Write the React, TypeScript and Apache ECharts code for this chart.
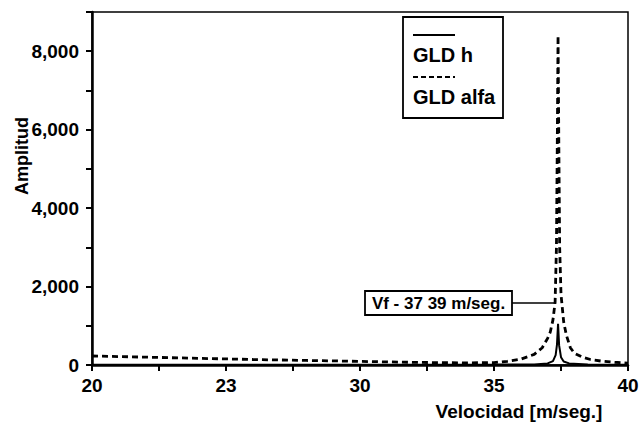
import React, { useEffect, useRef } from "react";
import * as echarts from "echarts";

// Velocity (m/seg.) and amplitude readings
const alfaVel = [20, 21, 22, 23, 24, 25, 26, 27, 28, 29, 30, 31, 32, 33, 34, 35, 35.5, 36, 36.5, 36.8, 37.0, 37.1, 37.2, 37.28, 37.33, 37.36, 37.39, 37.42, 37.45, 37.5, 37.6, 37.7, 37.85, 38.0, 38.3, 38.6, 39, 39.5, 40];
const alfaAmp = [230, 215, 200, 185, 170, 155, 140, 128, 116, 105, 92, 80, 68, 60, 55, 62, 95, 150, 270, 440, 680, 840, 1150, 1600, 3000, 5500, 8400, 5500, 3000, 1800, 1100, 760, 440, 300, 200, 140, 100, 70, 50];

const hVel = [20, 25, 30, 35, 36.5, 37.0, 37.2, 37.3, 37.35, 37.39, 37.43, 37.5, 37.6, 37.8, 38.5, 40];
const hAmp = [8, 8, 8, 10, 15, 40, 100, 250, 520, 1050, 500, 200, 90, 40, 15, 8];

const xTickValues = [20, 25, 30, 35, 40];
const xTickLabels = ["20", "23", "30", "35", "40"];

const seriesNames = ["GLD h", "GLD alfa"];
const annotationText = "Vf - 37 39 m/seg.";

const FONT = "'Liberation Sans', Arial, sans-serif";

export default function App() {
  const ref = useRef<HTMLDivElement>(null);
  useEffect(() => {
    if (!ref.current) return;
    const chart = echarts.init(ref.current, null, { renderer: "svg" });
    const alfaData = alfaVel.map((v, i) => [v, alfaAmp[i]]);
    const hData = hVel.map((v, i) => [v, hAmp[i]]);
    chart.setOption({
      animation: false,
      backgroundColor: "#fff",
      grid: {
        left: 92,
        right: 14,
        top: 12,
        bottom: 60,
        show: true,
        borderColor: "#000",
        borderWidth: 1.5,
      },
      xAxis: {
        type: "value",
        min: 20,
        max: 40,
        interval: 2.5,
        axisLine: { show: true, lineStyle: { color: "#000", width: 2.5 } },
        axisTick: { show: true, inside: false, length: 6, lineStyle: { color: "#000", width: 2 } },
        splitLine: { show: false },
        axisLabel: {
          color: "#000",
          fontFamily: FONT,
          fontWeight: "bold",
          fontSize: 19,
          margin: 11,
          formatter: (v: number) => {
            const idx = xTickValues.findIndex((t) => Math.abs(t - v) < 1e-6);
            return idx >= 0 ? xTickLabels[idx] : "";
          },
        },
      },
      yAxis: {
        type: "value",
        min: 0,
        max: 9000,
        interval: 1000,
        axisLine: { show: true, lineStyle: { color: "#000", width: 2.5 } },
        axisTick: { show: true, inside: false, length: 6, lineStyle: { color: "#000", width: 2 } },
        splitLine: { show: false },
        axisLabel: {
          color: "#000",
          fontFamily: FONT,
          fontWeight: "bold",
          fontSize: 19,
          margin: 13,
          formatter: (v: number) => {
            if (v % 2000 !== 0 || v > 8000) return "";
            return v === 0 ? "0" : v.toLocaleString("en-US");
          },
        },
      },
      series: [
        {
          name: seriesNames[1],
          type: "line",
          data: alfaData,
          showSymbol: false,
          lineStyle: { color: "#000", width: 2.8, type: [6, 4] },
          z: 2,
        },
        {
          name: seriesNames[0],
          type: "line",
          data: hData,
          showSymbol: false,
          lineStyle: { color: "#000", width: 2 },
          z: 3,
        },
      ],
      graphic: [
        {
          type: "text",
          x: 22,
          y: 156,
          rotation: Math.PI / 2,
          style: {
            text: "Amplitud",
            fontFamily: FONT,
            fontWeight: "bold",
            fontSize: 18,
            fill: "#000",
            align: "center",
            verticalAlign: "middle",
          },
        },
        {
          type: "text",
          x: 519,
          y: 411,
          style: {
            text: "Velocidad [m/seg.]",
            fontFamily: FONT,
            fontWeight: "bold",
            fontSize: 19,
            fill: "#000",
            align: "center",
            verticalAlign: "middle",
          },
        },
        {
          type: "rect",
          shape: { x: 403, y: 17, width: 100, height: 101 },
          style: { fill: "#fff", stroke: "#000", lineWidth: 1.8 },
          z: 10,
        },
        {
          type: "line",
          shape: { x1: 413, y1: 35, x2: 455, y2: 35 },
          style: { stroke: "#000", lineWidth: 2 },
          z: 11,
        },
        {
          type: "text",
          x: 413,
          y: 55,
          style: {
            text: seriesNames[0],
            fontFamily: FONT,
            fontWeight: "bold",
            fontSize: 20,
            fill: "#000",
            align: "left",
            verticalAlign: "middle",
          },
          z: 11,
        },
        {
          type: "line",
          shape: { x1: 413, y1: 77, x2: 455, y2: 77 },
          style: { stroke: "#000", lineWidth: 2, lineDash: [5, 3] },
          z: 11,
        },
        {
          type: "text",
          x: 413,
          y: 97,
          style: {
            text: seriesNames[1],
            fontFamily: FONT,
            fontWeight: "bold",
            fontSize: 20,
            fill: "#000",
            align: "left",
            verticalAlign: "middle",
          },
          z: 11,
        },
        {
          type: "rect",
          shape: { x: 365, y: 291, width: 147, height: 24 },
          style: { fill: "#fff", stroke: "#000", lineWidth: 1.8 },
          z: 10,
        },
        {
          type: "text",
          x: 438.5,
          y: 303,
          style: {
            text: annotationText,
            fontFamily: FONT,
            fontWeight: "bold",
            fontSize: 17,
            fill: "#000",
            align: "center",
            verticalAlign: "middle",
          },
          z: 11,
        },
        {
          type: "line",
          shape: { x1: 512, y1: 303, x2: 556, y2: 303 },
          style: { stroke: "#000", lineWidth: 1.5 },
          z: 11,
        },
      ],
    });
    return () => chart.dispose();
  }, []);
  return (
    <div
      ref={ref}
      style={{ position: "fixed", left: 0, top: 0, width: 642, height: 425, background: "#fff" }}
    />
  );
}
